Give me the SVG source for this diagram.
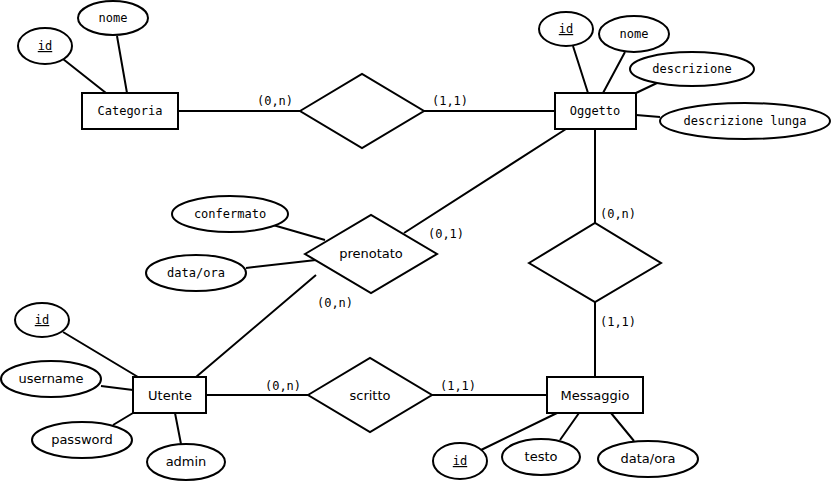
<svg xmlns="http://www.w3.org/2000/svg" width="833" height="483" viewBox="0 0 833 483">
<style>
.s{fill:#fff;stroke:#000;stroke-width:2}
.l{stroke:#000;stroke-width:2;fill:none}
text{font-family:"DejaVu Sans Mono",monospace;font-size:12px;text-anchor:middle;fill:#000}
.sans{font-family:"DejaVu Sans",sans-serif;font-size:13px}
.u{text-decoration:underline}
</style>
<rect width="833" height="483" fill="#fff"/>
<g id="connectors">
<path class="l" d="M63,59L106,93M117,36L127,93M178,111H300M424,111H555M573,46L588,93M625,52L603,93M657,83L636,93M660,117L636,115M595,129V223M595,302V377M566,129L404,233M273,225L325,240M246,268L316,260M316,275L196,377M63,332L138,377M101,386L133,390M113,425L133,413M181,444L175,413M206,395H308M432,395H547M481,450L557,413M560,440L579,413M634,441L611,413"/>
<text x="275" y="105">(0,n)</text><text x="450" y="105">(1,1)</text>
<text x="618" y="218">(0,n)</text><text x="618" y="326">(1,1)</text>
<text x="446" y="238">(0,1)</text><text x="335" y="307">(0,n)</text>
<text x="283" y="390">(0,n)</text><text x="458" y="390">(1,1)</text>
</g>
<g id="categoria"><rect class="s" x="82" y="93" width="96" height="36"/><text x="130" y="115">Categoria</text></g>
<g id="oggetto"><rect class="s" x="555" y="93" width="81" height="36"/><text x="595" y="115">Oggetto</text></g>
<g id="utente"><rect class="s" x="133" y="377" width="73" height="36"/><text class="sans" x="170" y="400">Utente</text></g>
<g id="messaggio"><rect class="s" x="547" y="377" width="96" height="36"/><text class="sans" x="595" y="400">Messaggio</text></g>
<g id="rel1"><polygon class="s" points="300,111 362,74 424,111 362,148"/></g>
<g id="rel2"><polygon class="s" points="529,263 595,223 661,263 595,302"/></g>
<g id="prenotato"><polygon class="s" points="305,254 371,215 437,254 371,293"/><text class="sans" x="371" y="258">prenotato</text></g>
<g id="scritto"><polygon class="s" points="308,395 370,358 432,395 370,432"/><text class="sans" x="370" y="400">scritto</text></g>
<g id="a1"><ellipse class="s" cx="45" cy="46" rx="27" ry="18"/><text class="u" x="45" y="50">id</text></g>
<g id="a2"><ellipse class="s" cx="113" cy="18" rx="35" ry="17"/><text x="113" y="22">nome</text></g>
<g id="a3"><ellipse class="s" cx="566" cy="29" rx="27" ry="17"/><text class="u" x="566" y="33">id</text></g>
<g id="a4"><ellipse class="s" cx="634" cy="34" rx="35" ry="18"/><text x="634" y="38">nome</text></g>
<g id="a5"><ellipse class="s" cx="692" cy="69" rx="62" ry="17"/><text x="692" y="73">descrizione</text></g>
<g id="a6"><ellipse class="s" cx="745" cy="121" rx="85" ry="18"/><text x="745" y="125">descrizione lunga</text></g>
<g id="a7"><ellipse class="s" cx="230" cy="214" rx="58" ry="18"/><text x="230" y="218">confermato</text></g>
<g id="a8"><ellipse class="s" cx="196" cy="273" rx="50" ry="18"/><text x="196" y="277">data/ora</text></g>
<g id="a9"><ellipse class="s" cx="42" cy="320" rx="27" ry="17"/><text class="u" x="42" y="324">id</text></g>
<g id="a10"><ellipse class="s" cx="51" cy="379" rx="50" ry="18"/><text class="sans" x="51" y="383">username</text></g>
<g id="a11"><ellipse class="s" cx="82" cy="440" rx="50" ry="18"/><text class="sans" x="82" y="444">password</text></g>
<g id="a12"><ellipse class="s" cx="186" cy="462" rx="39" ry="18"/><text class="sans" x="186" y="466">admin</text></g>
<g id="a13"><ellipse class="s" cx="460" cy="461" rx="27" ry="18"/><text class="u" x="460" y="465">id</text></g>
<g id="a14"><ellipse class="s" cx="541" cy="457" rx="39" ry="18"/><text class="sans" x="541" y="461">testo</text></g>
<g id="a15"><ellipse class="s" cx="648" cy="459" rx="50" ry="18"/><text class="sans" x="648" y="463">data/ora</text></g>
</svg>
